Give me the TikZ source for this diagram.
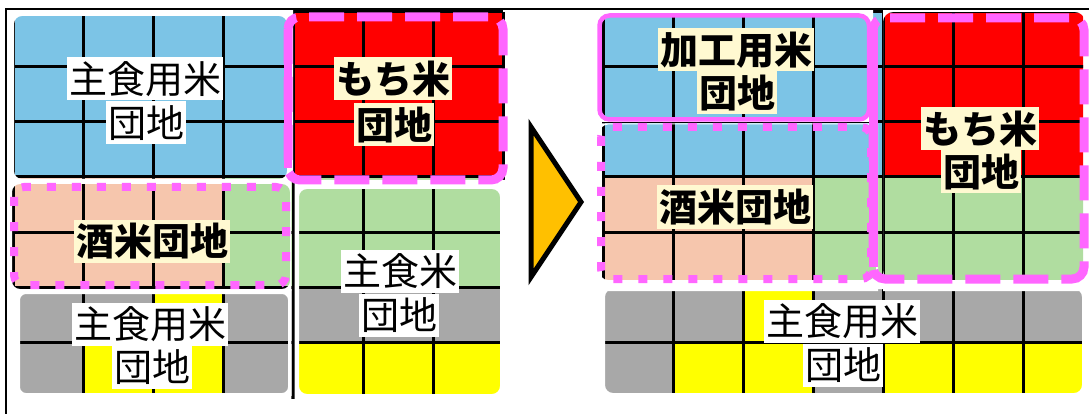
\documentclass[tikz,border=0pt]{standalone}
\usepackage{fontspec}
\newfontfamily\jpfont{Noto Sans CJK JP}
\definecolor{cb}{RGB}{124,196,230}
\definecolor{cr}{RGB}{255,0,0}
\definecolor{cs}{RGB}{246,198,173}
\definecolor{cg}{RGB}{176,221,160}
\definecolor{cgy}{RGB}{168,168,168}
\definecolor{cy}{RGB}{255,255,0}
\definecolor{cream}{RGB}{255,249,209}
\definecolor{mag}{RGB}{255,102,255}
\definecolor{arrowfill}{RGB}{255,192,0}
\newcommand\paddygrid[1]{%
  \foreach \row [count=\r from 0] in {{cb,cb,cb,cb,cr,cr,cr},{cb,cb,cb,cb,cr,cr,cr},{cb,cb,cb,cb,cr,cr,cr},{cs,cs,cs,cg,cg,cg,cg},{cs,cs,cs,cg,cg,cg,cg},{cgy,cgy,cy,cgy,cgy,cgy,cgy},{cgy,cy,cy,cgy,cy,cy,cy}}{%
    \foreach \col [count=\c from 0] in \row {%
      \fill[fill=\col] ({#1+70*\c},{12+55*\r}) rectangle ++(70,55);
    }%
  }%
  \foreach \c in {0,...,7} \draw[gridline] ({#1+70*\c},12) -- ++(0,385);
  \foreach \r in {0,...,7} \draw[gridline] (#1,{12+55*\r}) -- ++(490,0);
}
\begin{document}
\begin{tikzpicture}[x=1pt,y=-1pt,
  gridline/.style={line width=3pt, black},
  lbl/.style={inner xsep=2pt, inner ysep=2pt, text height=34pt, text depth=5pt,
    font=\jpfont\fontsize{38}{40}\selectfont},
  wlbl/.style={lbl, fill=white},
  clbl/.style={lbl, fill=cream, font=\jpfont\bfseries\fontsize{38}{40}\selectfont},
  wframe/.style={fill=white, even odd rule},
  magdash/.style={draw=mag, line width=9pt, dash pattern=on 35pt off 13pt, rounded corners=12pt},
  magdot/.style={draw=mag, line width=8pt, dash pattern=on 9pt off 16pt, rounded corners=10pt},
  magsolid/.style={draw=mag, line width=4.5pt, rounded corners=10pt},
]
\useasboundingbox (0,0) rectangle (1089,414);
\fill[white] (0,0) rectangle (1089,414);

% ---- grids ----
\paddygrid{13}
\begin{scope}
  \clip (600,0) rectangle (1083,414);
  \paddygrid{603}
\end{scope}

% ---- white frames (left panel) ----
\fill[wframe] (10,10) rectangle (293,182) [rounded corners=8pt] (14,16) rectangle (287,179);
\fill[wframe] (10,179) rectangle (291.4,291) [rounded corners=8pt] (12,184) rectangle (290,289);
\fill[wframe] (10,289) rectangle (291.4,400) [rounded corners=6pt] (20,294) rectangle (288,393);
\fill[wframe] (294.6,180) rectangle (507,400) [rounded corners=8pt] (299,189) rectangle (500,394);

% ---- white frames (right panel) ----
\fill[wframe] (597,10) rectangle (873,122) [rounded corners=10pt] (599,15) rectangle (870,120);
\fill[wframe] (597,123.5) rectangle (878,291) [rounded corners=8pt] (600,124.5) rectangle (876,280);
\fill[wframe] (883,8) rectangle (1089,291) [rounded corners=10pt] (883,12) rectangle (1085,280);
\fill[wframe] (597,280) rectangle (1089,400) [rounded corners=8pt] (605,289) rectangle (1082,393);

% ---- magenta borders ----
\draw[magdash] (288,17) rectangle (503,180);
\draw[draw=mag, line width=8pt] (288,30) -- (288,168);
\draw[magdot] (14,187) rectangle (286,285);
\draw[magsolid] (599.5,15.5) rectangle (869,119.5);
\draw[magdot] (601,127) rectangle (871,279);
\draw[magdash] (873,18) rectangle (1084,279);
\draw[draw=mag, line width=9pt] (873,30) -- (873,267);

% ---- labels (left) ----
\node[wlbl] (la1) at (145,79) {主食用米};
\node[wlbl] (la2) at (146,123) {団地};
\node[clbl] (lb1) at (393,79) {もち米};
\node[clbl] (lb2) at (394,125) {団地};
\node[clbl] (lc) at (152,241) {酒米団地};
\node[wlbl] (ld1) at (150,324) {主食用米};
\node[wlbl] (ld2) at (152,367) {団地};
\node[wlbl] (le1) at (400,271) {主食米};
\node[wlbl] (le2) at (399,315) {団地};

% ---- labels (right) ----
\node[clbl] (rf1) at (736,50) {加工用米};
\node[clbl] (rf2) at (737,93) {団地};
\node[clbl] (rg1) at (980,129) {もち米};
\node[clbl] (rg2) at (981,172) {団地};
\node[clbl] (rh) at (735,207) {酒米団地};
\node[wlbl] (ri1) at (842,321) {主食用米};
\node[wlbl] (ri2) at (843,365) {団地};

% ---- arrow ----
\filldraw[fill=arrowfill, draw=black, line width=5pt, line join=miter]
  (531,127) -- (581,202) -- (531,277) -- cycle;

% ---- outer frame lines ----
\draw[black, line width=2pt] (5,9) -- (1089,9);
\draw[black, line width=2pt] (6,9) -- (6,414);
\end{tikzpicture}
\end{document}
